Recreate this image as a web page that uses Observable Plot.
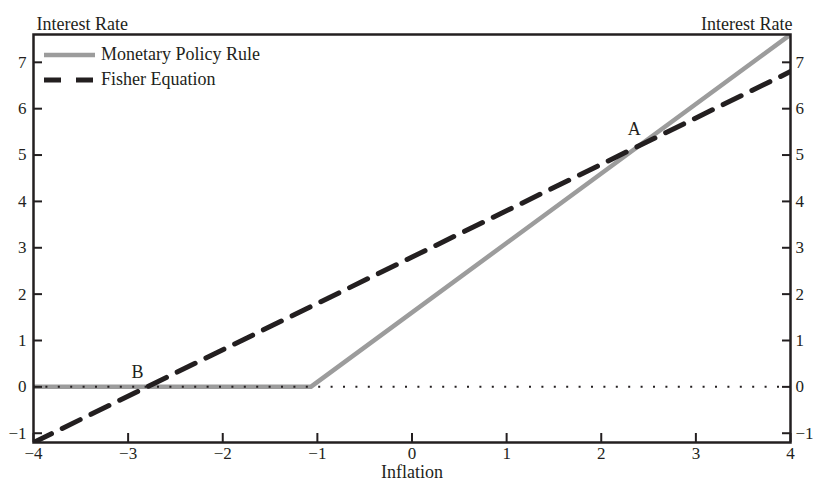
<!DOCTYPE html>
<html>
<head>
<meta charset="utf-8">
<script src="https://cdn.jsdelivr.net/npm/d3@7"></script>
<script src="https://cdn.jsdelivr.net/npm/@observablehq/plot@0.6"></script>
<style>
  html, body { margin: 0; padding: 0; background: #fff; }
  #wrap { position: relative; width: 813px; height: 482px; font-family: "Liberation Serif", "DejaVu Serif", serif; color: #231f20; }
  #legend { position: absolute; left: 44px; top: 42px; font-size: 18px; line-height: 25px; }
  #legend .row { display: flex; align-items: center; }
  #legend svg { margin-right: 6px; }
</style>
</head>
<body>
<div id="wrap">
  <div id="chart"></div>
  <div id="legend"></div>
</div>
<script>
// ---- data ----
const xTicks = [-4, -3, -2, -1, 0, 1, 2, 3, 4];
const yTicks = [-1, 0, 1, 2, 3, 4, 5, 6, 7];
const ruleInflation = [-4, -1.07, 4];
const ruleRate = [0, 0, 7.6];
const fisherInflation = [-4, 4];
const fisherRate = [-1.2, 6.8];
const pointLabels = ["A", "B"];
const pointInflation = [2.35, -2.9];
const pointRate = [5.55, 0.32];
const seriesNames = ["Monetary Policy Rule", "Fisher Equation"];
const axisTitleY = "Interest Rate";
const axisTitleX = "Inflation";

const ink = "#231f20";
const grey = "#9c9c9c";
const fs = 17;
const fsTitle = 18;

const ruleData = ruleInflation.map((x, i) => ({x, y: ruleRate[i]}));
const fisherData = fisherInflation.map((x, i) => ({x, y: fisherRate[i]}));
const pointData = pointLabels.map((t, i) => ({t, x: pointInflation[i], y: pointRate[i]}));
const fmt = d => d < 0 ? "\u2212" + Math.abs(d) : String(d);

const chart = Plot.plot({
  width: 813,
  height: 482,
  marginLeft: 33,
  marginRight: 23,
  marginTop: 34,
  marginBottom: 40,
  x: {domain: [-4, 4]},
  y: {domain: [-1.2, 7.6]},
  style: {fontFamily: "Liberation Serif, DejaVu Serif, serif", fontSize: fs + "px", color: ink, background: "#fff", overflow: "visible"},
  marks: [
    Plot.line(ruleData, {x: "x", y: "y", stroke: grey, strokeWidth: 4.5, clip: true}),
    Plot.ruleY([0], {stroke: ink, strokeWidth: 2, strokeDasharray: "2,10.4"}),
    Plot.line(fisherData, {x: "x", y: "y", stroke: ink, strokeWidth: 5, strokeDasharray: "20,12", clip: true}),
    Plot.text(pointData, {x: "x", y: "y", text: "t", fontSize: 18, fill: ink}),
    // inward ticks
    Plot.axisX(xTicks, {anchor: "bottom", tickSize: -9, strokeWidth: 2, stroke: ink, tickFormat: () => "", label: null}),
    Plot.axisY(yTicks, {anchor: "left", tickSize: -9, strokeWidth: 2, stroke: ink, tickFormat: () => "", label: null}),
    Plot.axisY(yTicks, {anchor: "right", tickSize: -9, strokeWidth: 2, stroke: ink, tickFormat: () => "", label: null}),
    // tick labels
    Plot.axisX(xTicks, {anchor: "bottom", tickSize: 0, tickPadding: 4, tickFormat: fmt, label: null, fill: ink, fontSize: fs}),
    Plot.axisY(yTicks, {anchor: "left", tickSize: 0, tickPadding: 7, tickFormat: fmt, label: null, fill: ink, fontSize: fs}),
    Plot.axisY(yTicks, {anchor: "right", tickSize: 0, tickPadding: 5, tickFormat: fmt, label: null, fill: ink, fontSize: fs}),
    Plot.frame({stroke: ink, strokeWidth: 2.5}),
    Plot.text([axisTitleY], {frameAnchor: "top-left", textAnchor: "start", dx: 3, dy: -17, fill: ink, fontSize: fsTitle}),
    Plot.text([axisTitleY], {frameAnchor: "top-right", textAnchor: "end", dx: 2, dy: -17, fill: ink, fontSize: fsTitle}),
    Plot.text([axisTitleX], {frameAnchor: "bottom", dy: 35, fill: ink, fontSize: fsTitle})
  ]
});
document.getElementById("chart").appendChild(chart);

// legend
const legend = document.getElementById("legend");
const styles = [
  {stroke: grey, width: 4.5, dash: null},
  {stroke: ink, width: 5, dash: "17,15"}
];
seriesNames.forEach((name, i) => {
  const row = document.createElement("div");
  row.className = "row";
  const s = styles[i];
  row.innerHTML = `<svg width="51" height="8"><line x1="0" y1="4" x2="51" y2="4" stroke="${s.stroke}" stroke-width="${s.width}" ${s.dash ? `stroke-dasharray="${s.dash}"` : ""}/></svg><span>${name}</span>`;
  legend.appendChild(row);
});
</script>
</body>
</html>
